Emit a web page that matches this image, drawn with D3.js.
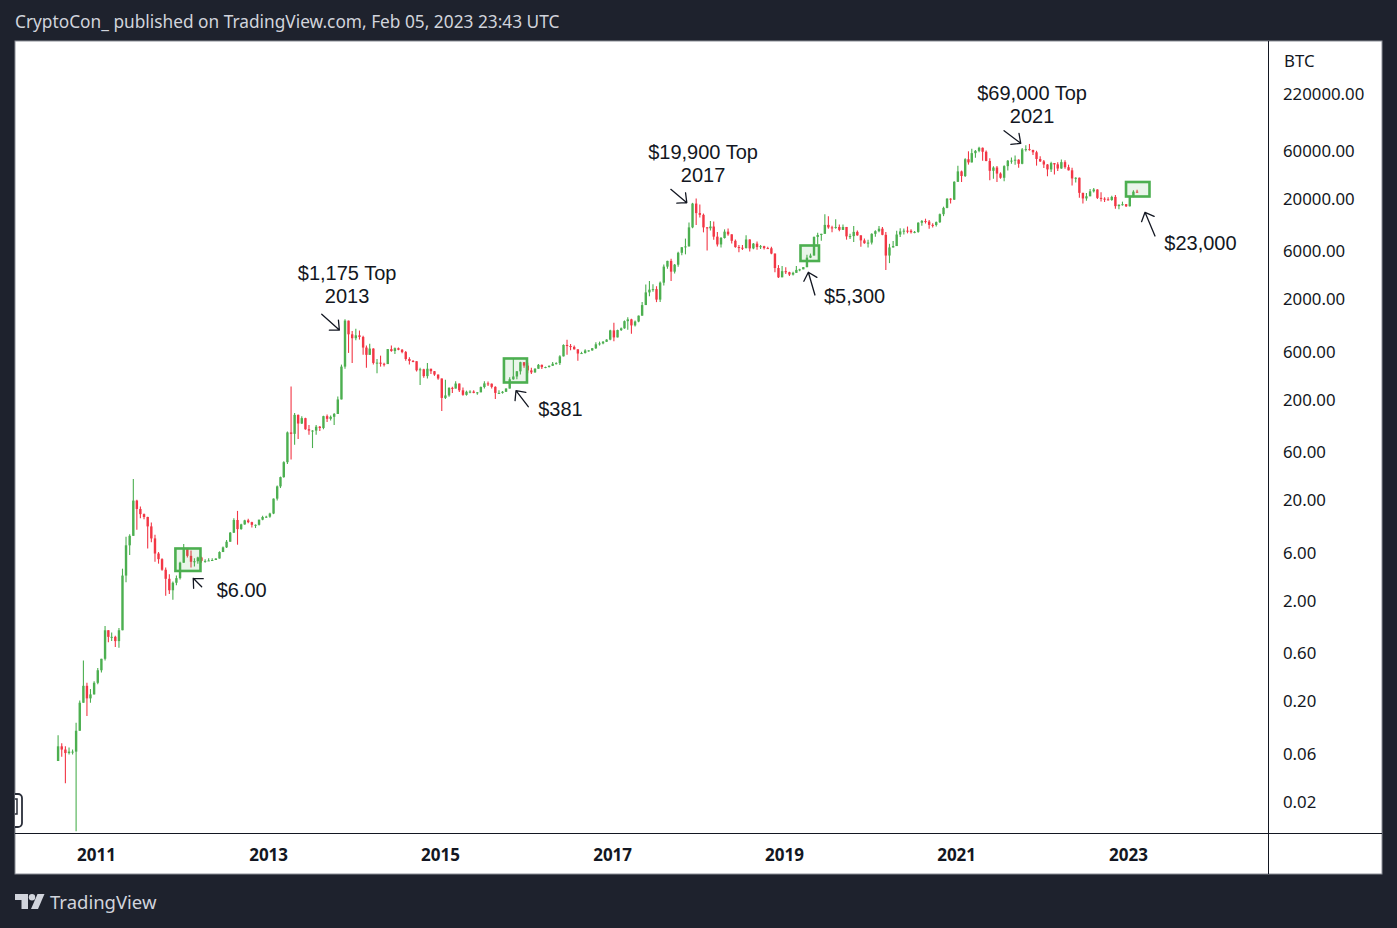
<!DOCTYPE html>
<html><head><meta charset="utf-8">
<script src="https://cdn.jsdelivr.net/npm/d3@7"></script>
<style>
html,body{margin:0;padding:0;background:#1e222d;}
svg{display:block;}
</style></head><body>
<svg id="c" width="1397" height="928"></svg>
<script>
// ---------------- DATA (half-month BTC/USD candles) ----------------
const firstPeriod = [2010, 6, 16];      // first candle starts 16 Jul 2010 (UTC)
const firstOpen = 0.05;
const closes = [
  0.07,0.065,0.06,0.062,0.062,0.10,0.19,0.28,0.21,0.23,0.30,
  0.40,0.52,1.0,0.86,0.86,0.78,1.0,3.5,7.0,8.7,19.5,16.1,14.3,13.4,10.8,8.2,5.8,5.1,4.0,3.25,2.5,2.97,3.3,4.7,
  6.6,5.5,4.8,4.86,5.3,4.9,4.9,4.95,5.0,5.17,6.0,6.68,7.6,9.35,12.5,10.15,11.3,12.4,11.9,11.2,11.2,12.6,13.4,13.5,
  14.5,20.4,27,33.4,47,93,90,139,114,129,100,97,97,106,103,135,127,133,142,198,420,1205,880,805,
  860,829,650,550,635,457,460,448,445,627,600,640,618,586,500,478,475,386,395,338,400,378,350,320,
  205,217,258,254,285,244,220,236,237,230,233,263,286,284,264,230,230,236,254,314,335,377,465,430,
  385,368,400,437,415,416,428,448,455,531,690,673,660,624,567,573,608,609,640,700,715,742,780,963,
  820,970,1010,1190,1240,1080,1180,1350,1720,2300,2450,2480,1950,2875,4150,4735,3700,4340,5700,6470,6600,10200,17600,14150,
  13600,10200,10000,10400,8250,6900,8000,9250,8700,7500,6500,6400,6350,7730,6300,7030,6500,6630,6350,6320,5600,4020,3250,3740,
  3650,3460,3600,3850,3900,4100,5100,5350,8200,8570,8800,10800,10200,10100,10300,9630,10300,8300,8350,9200,8500,7570,7100,7200,
  8800,9350,9900,8600,5350,6440,6650,8660,9300,9460,9450,9140,9200,11350,11800,11650,10800,10780,11500,13800,15950,19700,19250,29000,
  36800,33100,48600,45200,55900,58900,63200,57700,46700,37300,40200,35000,31800,41500,47000,47100,48100,43800,60900,61300,60100,57000,48900,46300,
  43100,38500,44500,43200,39300,45500,40500,37700,31300,31800,22500,19800,20800,23300,24300,20050,19700,19400,19100,20500,16600,17150,17350,16550,
  20900,23100,22900
];
const highs = [
  0.09,0.075,0.07,0.068,0.065,0.12,0.20,0.50,0.30,0.26,0.31,
  0.42,0.52,1.1,1.0,0.95,0.88,1.05,4.1,8.5,9.0,31.9,19.9,17,14.5,13.5,11.8,8.9,6.0,5.2,4.2,3.6,3.05,3.5,4.8,
  7.2,6.6,6.2,5.2,5.4,5.4,5.1,5.2,5.2,5.2,6.1,6.8,7.9,9.5,13.0,15.4,11.5,12.6,12.9,12.0,11.3,12.6,13.8,13.8,
  14.8,20.5,27.5,33.8,48,95,266,145,140,135,130,110,98,110,108,136,140,137,145,212,440,1242,1160,950,
  1000,960,850,680,710,640,500,540,460,630,680,650,650,630,600,520,490,470,410,400,455,400,380,350,
  320,310,262,265,300,286,260,242,245,245,235,267,300,298,285,268,245,240,256,330,502,380,470,465,
  460,410,405,445,440,420,430,467,465,545,700,777,705,680,625,590,625,612,645,735,745,755,785,975,
  1150,980,1030,1210,1300,1260,1210,1355,1850,2760,2980,2780,2650,2950,4350,4750,4980,4400,5850,6500,7890,11400,17900,19800,
  17200,14000,10300,11800,11700,9200,8200,9750,9950,8700,7750,6800,6800,8500,7760,7150,7400,6800,6700,6560,6550,5600,4300,4200,
  4100,3700,3700,4200,3950,4120,5450,5600,8300,9000,8800,13800,13200,10600,12300,10900,10900,10300,8800,10500,9500,8500,7900,7700,
  8900,9550,10500,10300,9200,7000,7470,9450,10000,9950,10400,9800,9400,11450,12100,12450,12100,11200,11700,14000,16400,19900,19900,29300,
  41900,37500,49700,58300,61700,60000,64800,63500,59500,49800,41300,41600,36000,42300,47900,50500,52900,48500,62900,67000,69000,60500,59000,52000,
  47900,43500,45800,44500,45400,48200,47400,42900,40000,32200,31900,21900,22400,24600,25200,24400,22800,20300,20400,21000,21400,17200,18400,17400,
  21100,23900,24200
];
const lows = [
  0.05,0.055,0.03,0.058,0.058,0.01,0.10,0.19,0.14,0.19,0.23,
  0.29,0.38,0.5,0.76,0.78,0.68,0.67,1.0,3.0,5.6,8.7,10,13,12.7,6.5,7.5,4.8,4.6,3.9,2.2,2.3,2.01,2.8,3.2,
  4.7,5.3,4.2,4.3,4.6,4.7,4.7,4.9,4.9,5.0,5.2,6.0,6.6,7.6,9.3,7.1,10.0,11.2,11.6,10.5,10.4,11.0,12.4,13.1,
  13.2,14.3,19.6,26,33,45,50,70,80,113,99,88,65,88,96,100,118,122,110,142,198,400,575,455,
  770,780,550,410,550,440,360,420,420,445,590,560,610,570,480,440,465,375,275,325,320,355,340,310,
  152,200,210,230,260,235,215,216,228,228,220,233,254,270,255,200,225,226,235,254,310,315,350,410,
  360,355,365,400,398,405,412,425,440,435,530,550,610,620,480,565,568,590,605,630,680,700,740,770,
  750,820,950,1000,980,890,1050,1160,1350,1750,2100,2330,1840,1850,2700,3950,2980,3550,4150,5400,5500,7100,10000,10800,
  12800,9100,6000,9500,7700,6600,6450,7900,8400,7050,6400,5780,6080,6300,5880,6180,6100,6200,6150,6250,5500,3650,3200,3250,
  3500,3350,3390,3600,3730,3920,4100,5050,5350,6900,7500,8800,9900,9100,9900,9350,9600,7700,7800,7300,8400,6550,7000,6450,
  6900,8250,9150,8500,3850,4500,6600,6750,8200,8650,8900,8850,8900,9000,10600,11150,9900,10200,10400,11300,13200,15800,17600,19100,
  28900,28850,32300,43000,45000,50400,57000,47000,46300,30000,31000,28800,31100,29300,37600,43900,42800,40000,43300,58000,59200,53500,42000,45500,
  39700,32900,36300,34300,37200,39000,39200,37600,26700,28600,20100,17600,18800,20800,22700,19600,18500,18200,18900,18800,15600,15500,16800,16300,
  16500,20400,22700
];
const yearTicks = [2011, 2013, 2015, 2017, 2019, 2021, 2023];
const priceTicks = [220000, 60000, 20000, 6000, 2000, 600, 200, 60, 20, 6, 2, 0.6, 0.2, 0.06, 0.02];
const axisTitle = "BTC";
const headerText = "CryptoCon_ published on TradingView.com, Feb 05, 2023 23:43 UTC";
const footerText = "TradingView";
// annotation zones (decimal year, price)
const zoneFrom = [2011.924, 2015.744, 2019.192, 2022.977];
const zoneTo   = [2012.215, 2016.012, 2019.407, 2023.250];
const zoneLow  = [3.89, 292, 4722, 20700];
const zoneHigh = [6.51, 506, 6736, 28860];
// text notes (decimal year, price of first baseline)
const noteText = [["$1,175 Top","2013"],["$19,900 Top","2017"],["$69,000 Top","2021"],["$6.00"],["$381"],["$5,300"],["$23,000"]];
const noteT = [2013.919, 2018.058, 2021.884, 2012.403, 2016.143, 2019.465, 2023.422];
const noteP = [2919, 47220, 181700, 2.128, 136.4, 1791, 6076];
// arrows: tail -> head (decimal year, price)
const arrowT0 = [2013.624, 2017.683, 2021.558, 2012.229, 2016.027, 2019.360, 2023.314];
const arrowP0 = [1393, 24400, 93480, 2.712, 167.7, 2167, 8370];
const arrowT1 = [2013.829, 2017.869, 2021.752, 2012.131, 2015.884, 2019.283, 2023.198];
const arrowP1 = [972, 17960, 70040, 3.287, 241.9, 3646, 14410];

// ---------------- LAYOUT ----------------
const FONT = "'Noto Sans','DejaVu Sans',sans-serif";
const NOTE_FONT = "'Liberation Sans',Arial,sans-serif";
const frame = {l:15, t:41, r:1382, b:874};
const plot = {l:15, t:41, r:1268, b:833};
const UP = "#4caf50", DOWN = "#f23645", INK = "#131722";

const svg = d3.select("#c");
svg.append("rect").attr("width",1397).attr("height",928).attr("fill","#1e222d");

const yearToDate = t => { const y = Math.floor(t); const a = Date.UTC(y,0,1), b = Date.UTC(y+1,0,1); return new Date(a + (t-y)*(b-a)); };
const X = d3.scaleUtc().domain([yearToDate(2011), yearToDate(2023)]).range([96, 1128]);
const Y = d3.scaleLog().domain([0.02, 20000]).range([801, 198]);

// header
svg.append("text").attr("x",15).attr("y",28).attr("fill","#d1d4dc")
  .style("font-family",FONT).style("font-size","17.3px").text(headerText);

// white panel
svg.append("rect").attr("x",frame.l).attr("y",frame.t).attr("width",frame.r-frame.l).attr("height",frame.b-frame.t)
  .attr("fill","#ffffff").attr("stroke","#8a8d96").attr("stroke-width",1);

const defs = svg.append("defs");
defs.append("clipPath").attr("id","plotclip").append("rect")
  .attr("x",plot.l).attr("y",plot.t).attr("width",plot.r-plot.l).attr("height",plot.b-plot.t);

// candles
const candles = closes.map((c,i)=>{
  const k = i, k2 = i+1;
  const start = new Date(Date.UTC(firstPeriod[0], firstPeriod[1] + Math.floor((k+1)/2), (k+1)%2 ? 16 : 1));
  const end   = new Date(Date.UTC(firstPeriod[0], firstPeriod[1] + Math.floor((k2+1)/2), (k2+1)%2 ? 16 : 1));
  const o = i ? closes[i-1] : firstOpen;
  return {mid:new Date((+start + +end)/2), o, c, h:Math.max(highs[i],o,c), l:Math.min(lows[i],o,c)};
});
const gC = svg.append("g").attr("clip-path","url(#plotclip)");
const cg = gC.selectAll("g.cd").data(candles).enter().append("g");
cg.append("line")
  .attr("x1",d=>X(d.mid)).attr("x2",d=>X(d.mid))
  .attr("y1",d=>Y(d.h)).attr("y2",d=>Y(d.l))
  .attr("stroke",d=>d.c>=d.o?UP:DOWN).attr("stroke-width",1.1);
cg.append("rect")
  .attr("x",d=>X(d.mid)-1.2).attr("width",2.4)
  .attr("y",d=>Math.min(Y(d.o),Y(d.c)))
  .attr("height",d=>Math.max(1,Math.abs(Y(d.o)-Y(d.c))))
  .attr("fill",d=>d.c>=d.o?UP:DOWN);

// zones
const gA = svg.append("g").attr("clip-path","url(#plotclip)");
zoneFrom.forEach((f,i)=>{
  const x0 = X(yearToDate(f)), x1 = X(yearToDate(zoneTo[i]));
  const y0 = Y(zoneHigh[i]), y1 = Y(zoneLow[i]);
  gA.append("rect").attr("x",x0).attr("y",y0).attr("width",x1-x0).attr("height",y1-y0)
    .attr("fill","rgba(76,175,80,0.12)").attr("stroke","#4caf50").attr("stroke-width",2.6);
});
// notes (two-line notes are separate texts, centred)
noteText.forEach((lines,i)=>{
  const x = X(yearToDate(noteT[i])), y = Y(noteP[i]);
  lines.forEach((s,j)=>{
    const yy = lines.length>1 ? y - 1.5 + j*23 : y;
    gA.append("text").attr("x",x).attr("y",yy).attr("fill",INK)
      .attr("text-anchor", lines.length>1 ? "middle" : "start")
      .style("font-family",NOTE_FONT).style("font-size","20px").text(s);
  });
});
// arrows
arrowT0.forEach((t0,i)=>{
  const x0 = X(yearToDate(t0)), y0 = Y(arrowP0[i]);
  const x1 = X(yearToDate(arrowT1[i])), y1 = Y(arrowP1[i]);
  const ang = Math.atan2(y0-y1, x0-x1), L = 10, sp = Math.PI/4.2;
  const p = d3.path();
  p.moveTo(x0,y0); p.lineTo(x1,y1);
  p.moveTo(x1 + L*Math.cos(ang+sp), y1 + L*Math.sin(ang+sp)); p.lineTo(x1,y1);
  p.lineTo(x1 + L*Math.cos(ang-sp), y1 + L*Math.sin(ang-sp));
  gA.append("path").attr("d",p.toString()).attr("fill","none").attr("stroke",INK)
    .attr("stroke-width",1.3).attr("stroke-linecap","round").attr("stroke-linejoin","round");
});

// separators
svg.append("line").attr("x1",plot.r+0.5).attr("x2",plot.r+0.5).attr("y1",frame.t).attr("y2",frame.b)
  .attr("stroke",INK).attr("stroke-width",1);
svg.append("line").attr("x1",frame.l).attr("x2",frame.r).attr("y1",plot.b+0.5).attr("y2",plot.b+0.5)
  .attr("stroke",INK).attr("stroke-width",1);

// price axis
const yAxis = d3.axisRight(Y).tickValues(priceTicks).tickSize(0).tickPadding(15).tickFormat(d=>d.toFixed(2));
const gy = svg.append("g").attr("transform",`translate(${plot.r},0)`).call(yAxis);
gy.select(".domain").remove();
gy.selectAll("text").attr("fill",INK).attr("dy","0.36em").style("font-family",FONT).style("font-size","16.8px");
svg.append("text").attr("x",plot.r+16).attr("y",67).attr("fill",INK)
  .style("font-family",FONT).style("font-size","16.8px").text(axisTitle);

// time axis
const xAxis = d3.axisBottom(X).tickValues(yearTicks.map(yearToDate)).tickSize(0).tickPadding(16)
  .tickFormat(d=>d.getUTCFullYear());
const gx = svg.append("g").attr("transform",`translate(0,${plot.b})`).call(xAxis);
gx.select(".domain").remove();
gx.selectAll("text").attr("fill",INK).style("font-family",FONT).style("font-size","17px").style("font-weight","bold");

// left-edge handle icon
const gI = svg.append("g");
defs.append("clipPath").attr("id","iconclip").append("rect").attr("x",15).attr("y",780).attr("width",20).attr("height",53);
gI.attr("clip-path","url(#iconclip)");
gI.append("rect").attr("x",5).attr("y",794).attr("width",17).attr("height",33).attr("rx",4)
  .attr("fill","#ffffff").attr("stroke","#2a2e39").attr("stroke-width",1.8);
gI.append("rect").attr("x",11).attr("y",799).attr("width",6).attr("height",15)
  .attr("fill","none").attr("stroke","#2a2e39").attr("stroke-width",1.5);

// footer logo + text
const gL = svg.append("g").attr("fill","#d1d4dc");
gL.append("path").attr("d","M15,894 H28 V909 H21.5 V900 H15 Z");
gL.append("circle").attr("cx",32).attr("cy",897.3).attr("r",3.2);
gL.append("path").attr("d","M37.5,894 H44.5 L38,909 H31 Z");
svg.append("text").attr("x",50).attr("y",909).attr("fill","#d1d4dc")
  .style("font-family",FONT).style("font-size","18.5px").text(footerText);
</script>
</body></html>
